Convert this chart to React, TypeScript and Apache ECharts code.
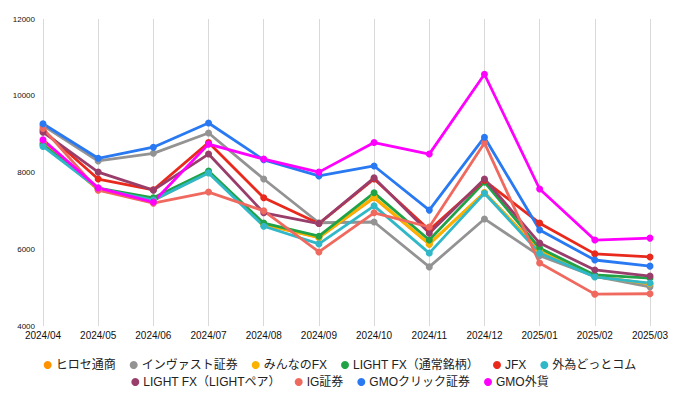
import React, { useEffect, useRef } from "react";
import * as echarts from "echarts";

const months = ["2024/04", "2024/05", "2024/06", "2024/07", "2024/08", "2024/09", "2024/10", "2024/11", "2024/12", "2025/01", "2025/02", "2025/03"];

const hirose = [8780, 7550, 7270, 8010, 6640, 6300, 7340, 6130, 7480, 5980, 5290, 5090];
const invast = [9220, 8300, 8500, 9030, 7830, 6690, 6710, 5540, 6790, 5830, 5290, 5020];
const minna = [8760, 7560, 7290, 8000, 6650, 6310, 7360, 6140, 7470, 5970, 5300, 5100];
const lightfx = [8720, 7590, 7340, 8040, 6680, 6340, 7470, 6240, 7750, 6030, 5330, 5250];
const jfx = [9100, 7830, 7550, 8780, 7340, 6670, 7830, 6500, 7790, 6680, 5880, 5800];
const gaitame = [8680, 7580, 7280, 7990, 6600, 6140, 7130, 5900, 7460, 5900, 5280, 5120];
const lightpair = [9050, 8010, 7540, 8480, 6950, 6670, 7860, 6420, 7830, 6160, 5460, 5300];
const ig = [9150, 7540, 7200, 7490, 7000, 5930, 6950, 6580, 8770, 5640, 4830, 4840];
const gmoClick = [9270, 8370, 8660, 9290, 8330, 7910, 8170, 7020, 8920, 6500, 5720, 5560];
const gmoGaika = [8850, 7600, 7230, 8740, 8350, 8010, 8780, 8480, 10560, 7570, 6240, 6290];

const yTicks = [4000, 6000, 8000, 10000, 12000];

const seriesDefs = [
  { name: "ヒロセ通商", data: hirose, color: "#ff9200" },
  { name: "インヴァスト証券", data: invast, color: "#939393" },
  { name: "みんなのFX", data: minna, color: "#fbb100" },
  { name: "LIGHT FX（通常銘柄）", data: lightfx, color: "#1fa346" },
  { name: "JFX", data: jfx, color: "#e8291c" },
  { name: "外為どっとコム", data: gaitame, color: "#31b8c8" },
  { name: "LIGHT FX（LIGHTペア）", data: lightpair, color: "#993d6b" },
  { name: "IG証券", data: ig, color: "#f0695f" },
  { name: "GMOクリック証券", data: gmoClick, color: "#2979f2" },
  { name: "GMO外貨", data: gmoGaika, color: "#ff00ff" },
];

const FONT = "'Liberation Sans', 'Noto Sans CJK JP', sans-serif";

export default function App() {
  const ref = useRef<HTMLDivElement>(null);
  useEffect(() => {
    document.body.style.margin = "0";
    if (!ref.current) return;
    const chart = echarts.init(ref.current, null, { renderer: "svg" });
    const legendCommon = {
      left: "center",
      icon: "circle",
      itemWidth: 8,
      itemHeight: 8,
      itemGap: 14,
      textStyle: { fontSize: 12, color: "#222", fontFamily: FONT, padding: [0, 0, 0, -1] },
    };
    chart.setOption({
      animation: false,
      textStyle: { fontFamily: FONT },
      grid: { left: 43, right: 30, top: 19, bottom: 72, containLabel: false },
      legend: [
        { ...legendCommon, top: 354, data: seriesDefs.slice(0, 6).map((s) => s.name) },
        { ...legendCommon, top: 371, data: seriesDefs.slice(6).map((s) => s.name) },
      ],
      xAxis: {
        type: "category",
        boundaryGap: false,
        data: months,
        axisLine: { show: false },
        axisTick: { show: false },
        axisLabel: { fontSize: 10, color: "#111", margin: 4, fontFamily: FONT },
        splitLine: { show: true, lineStyle: { color: "#d9d9d9", width: 1 } },
      },
      yAxis: {
        type: "value",
        min: yTicks[0],
        max: yTicks[yTicks.length - 1],
        interval: 2000,
        axisLine: { show: false },
        axisTick: { show: false },
        splitLine: { show: false },
        axisLabel: {
          fontSize: 8,
          color: "#111",
          margin: 8,
          fontFamily: FONT,
          formatter: (v: number) => String(v),
        },
      },
      series: seriesDefs.map((s) => ({
        name: s.name,
        type: "line",
        data: s.data,
        color: s.color,
        symbol: "circle",
        symbolSize: 7,
        lineStyle: { width: 2.8, color: s.color },
        itemStyle: { color: s.color },
      })),
    });
    return () => chart.dispose();
  }, []);
  return <div ref={ref} style={{ width: 680, height: 398 }} />;
}
